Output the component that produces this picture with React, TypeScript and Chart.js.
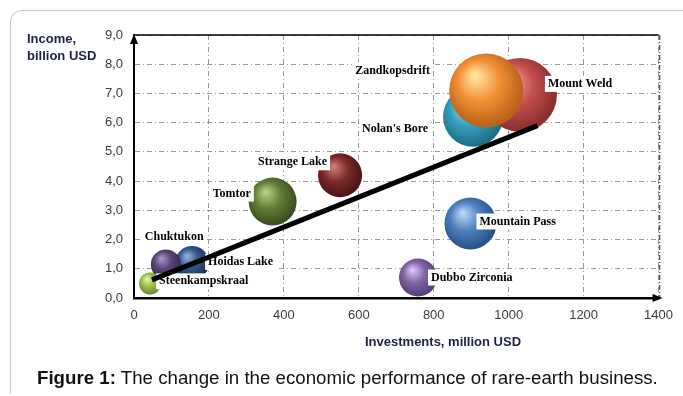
import React, { useEffect, useRef } from "react";
import { Chart, registerables } from "chart.js";

Chart.register(...registerables);

// ---------- data ----------
const mines = [
  "Hoidas Lake",
  "Chuktukon",
  "Steenkampskraal",
  "Tomtor",
  "Strange Lake",
  "Nolan's Bore",
  "Mount Weld",
  "Zandkopsdrift",
  "Mountain Pass",
  "Dubbo Zirconia",
];
const investments = [155, 85, 43, 370, 550, 905, 1030, 940, 898, 758];
const income = [1.2, 1.15, 0.5, 3.3, 4.2, 6.2, 6.95, 7.1, 2.55, 0.7];
const bubbleSize = [17, 15, 11, 24, 22, 30, 37, 37, 26, 19];

const trendX = [48, 1077];
const trendY = [0.62, 5.9];

const xTickValues = [0, 200, 400, 600, 800, 1000, 1200, 1400];
const xTickLabels = ["0", "200", "400", "600", "800", "1000", "1200", "1400"];
const yTickLabels = ["0,0", "1,0", "2,0", "3,0", "4,0", "5,0", "6,0", "7,0", "8,0", "9,0"];

// ---------- styles ----------
const baseColors = ["#34578a", "#5c4878", "#9fbf4e", "#617c38", "#7d2a2a", "#36a0bf", "#c4504e", "#f28f35", "#4f80bf", "#8264a6"];
const lightColors = ["#8eaed8", "#a892c6", "#e6f5a8", "#b4cf82", "#d07a7a", "#a0e0f0", "#f7b0b0", "#ffe6a0", "#b6d4f6", "#dcc0f8"];
const darkColors = ["#1c3358", "#392b4e", "#6d8a2c", "#3b4f1f", "#4e1414", "#1d6f88", "#8a2e2e", "#b8621a", "#2a5288", "#55407a"];
// label text offset (left edge, middle) from bubble centre, px
const labelDx = [16, -21, 9, -60, -82, -111, 28, -131, 9, 13];
const labelDy = [-1, -27, -2, -8, -13, 12, -11, -20, -2, 0];

function sphere(c: any) {
  const i = c.dataIndex;
  const chart = c.chart;
  const base = baseColors[i];
  const sx = chart.scales && chart.scales.x;
  const sy = chart.scales && chart.scales.y;
  if (c.type !== "data" || !sx || !sy) return base;
  const px = sx.getPixelForValue(investments[i]);
  const py = sy.getPixelForValue(income[i]);
  const r = bubbleSize[i];
  if (!isFinite(px) || !isFinite(py)) return base;
  const g = chart.ctx.createRadialGradient(px - r * 0.3, py - r * 0.4, r * 0.05, px - r * 0.1, py - r * 0.12, r * 1.08);
  g.addColorStop(0, lightColors[i]);
  g.addColorStop(0.5, base);
  g.addColorStop(1, darkColors[i]);
  return g;
}

const labelPlugin = {
  id: "bubbleLabels",
  afterDatasetDraw(chart: any, args: any) {
    if (args.index !== 0) return;
    const ctx = chart.ctx;
    const meta = chart.getDatasetMeta(0);
    ctx.save();
    ctx.font = "bold 12px 'Liberation Serif', 'Times New Roman', serif";
    ctx.textBaseline = "middle";
    ctx.textAlign = "left";
    meta.data.forEach((el: any, i: number) => {
      const tx = el.x + labelDx[i];
      const ty = el.y + labelDy[i];
      const w = ctx.measureText(mines[i]).width;
      ctx.fillStyle = "#ffffff";
      ctx.fillRect(tx - 3, ty - 8, w + 6, 16);
      ctx.fillStyle = "#000000";
      ctx.fillText(mines[i], tx, ty);
    });
    ctx.restore();
  },
};

const framePlugin = {
  id: "plotFrame",
  beforeDatasetsDraw(chart: any) {
    const { ctx, chartArea: a } = chart;
    ctx.save();
    ctx.strokeStyle = "#000";
    ctx.lineWidth = 1.5;
    ctx.beginPath();
    ctx.moveTo(a.left, a.top);
    ctx.lineTo(a.right, a.top);
    ctx.stroke();
    ctx.strokeStyle = "#555";
    ctx.lineWidth = 1.5;
    ctx.setLineDash([5, 2, 1, 2]);
    ctx.beginPath();
    ctx.moveTo(a.right + 1, a.top);
    ctx.lineTo(a.right + 1, a.bottom);
    ctx.stroke();
    ctx.restore();
  },
  afterDraw(chart: any) {
    const { ctx, chartArea: a } = chart;
    ctx.save();
    ctx.fillStyle = "#000";
    ctx.beginPath();
    ctx.moveTo(a.left, a.top - 1);
    ctx.lineTo(a.left - 4, a.top + 9);
    ctx.lineTo(a.left + 4, a.top + 9);
    ctx.closePath();
    ctx.fill();
    ctx.beginPath();
    ctx.moveTo(a.right + 4, a.bottom);
    ctx.lineTo(a.right - 6, a.bottom - 4);
    ctx.lineTo(a.right - 6, a.bottom + 4);
    ctx.closePath();
    ctx.fill();
    ctx.restore();
  },
};

export default function App() {
  const ref = useRef<HTMLCanvasElement | null>(null);

  useEffect(() => {
    if (!ref.current) return;
    const gridDash = [5, 3, 1, 3];
    const tickFont = { family: "'Liberation Sans Narrow', 'Arial Narrow', 'Liberation Sans', Arial, sans-serif", size: 13 };
    const chart = new Chart(ref.current, {
      type: "bubble",
      data: {
        datasets: [
          {
            type: "bubble",
            label: "Mines",
            data: mines.map((_, i) => ({ x: investments[i], y: income[i], r: bubbleSize[i] })),
            backgroundColor: sphere as any,
            borderWidth: 0,
            order: 1,
          } as any,
          {
            type: "line",
            label: "Trend",
            data: trendX.map((x, i) => ({ x, y: trendY[i] })),
            borderColor: "#000",
            borderWidth: 5,
            pointRadius: 0,
            fill: false,
            order: 0,
          } as any,
        ],
      },
      options: {
        animation: false,
        responsive: false,
        devicePixelRatio: 1,
        events: [],
        layout: { autoPadding: false, padding: { left: 94, right: 24, top: 35, bottom: 68 } },
        plugins: { legend: { display: false }, tooltip: { enabled: false } },
        scales: {
          x: {
            type: "linear",
            min: 0,
            max: 1400,
            afterFit: (s: any) => {
              s.height = 30;
            },
            afterBuildTicks: (s: any) => {
              s.ticks = xTickValues.map((v) => ({ value: v }));
            },
            ticks: {
              color: "#3a3a3a",
              font: tickFont,
              padding: 10,
              maxRotation: 0,
              callback: (v: any) => {
                const k = xTickValues.indexOf(Number(v));
                return k >= 0 ? xTickLabels[k] : "";
              },
            },
            grid: { color: "#9a9a9a", lineWidth: 1, drawTicks: false },
            border: { display: true, color: "#000", width: 2.5, dash: gridDash },
          },
          y: {
            type: "linear",
            min: 0,
            max: 9,
            afterFit: (s: any) => {
              s.width = 40;
            },
            ticks: {
              stepSize: 1,
              color: "#3a3a3a",
              font: tickFont,
              padding: 11,
              callback: (v: any) => yTickLabels[Math.round(Number(v))],
            },
            grid: { color: "#9a9a9a", lineWidth: 1, drawTicks: false },
            border: { display: true, color: "#000", width: 2, dash: gridDash },
          },
        },
      },
      plugins: [labelPlugin, framePlugin],
    } as any);
    return () => chart.destroy();
  }, []);

  return (
    <div style={{ position: "fixed", left: 0, top: 0, width: 683, height: 396, background: "#fff", overflow: "hidden" }}>
      <div
        style={{
          position: "absolute",
          left: 10,
          top: 10,
          width: 720,
          height: 383,
          borderTop: "1.5px solid #c8c8c8",
          borderLeft: "1.5px solid #c8c8c8",
          borderTopLeftRadius: 12,
        }}
      />
      <canvas ref={ref} width={683} height={396} style={{ position: "absolute", left: 0, top: 0, width: 683, height: 396 }} />
      <div
        style={{
          position: "absolute",
          left: 27,
          top: 30,
          font: "bold 13px 'Liberation Sans', Arial, sans-serif",
          lineHeight: "17px",
          color: "#1c2240",
          whiteSpace: "nowrap",
        }}
      >
        Income,
        <br />
        billion USD
      </div>
      <div
        style={{
          position: "absolute",
          left: 365,
          top: 334,
          font: "bold 13px 'Liberation Sans', Arial, sans-serif",
          lineHeight: "16px",
          color: "#1c2240",
          whiteSpace: "nowrap",
        }}
      >
        Investments, million USD
      </div>
      <div
        style={{
          position: "absolute",
          left: 37,
          top: 367,
          font: "18.7px 'Liberation Sans', Arial, sans-serif",
          lineHeight: "22px",
          color: "#111",
          whiteSpace: "nowrap",
        }}
      >
        <b>Figure 1:</b> The change in the economic performance of rare-earth business.
      </div>
    </div>
  );
}
